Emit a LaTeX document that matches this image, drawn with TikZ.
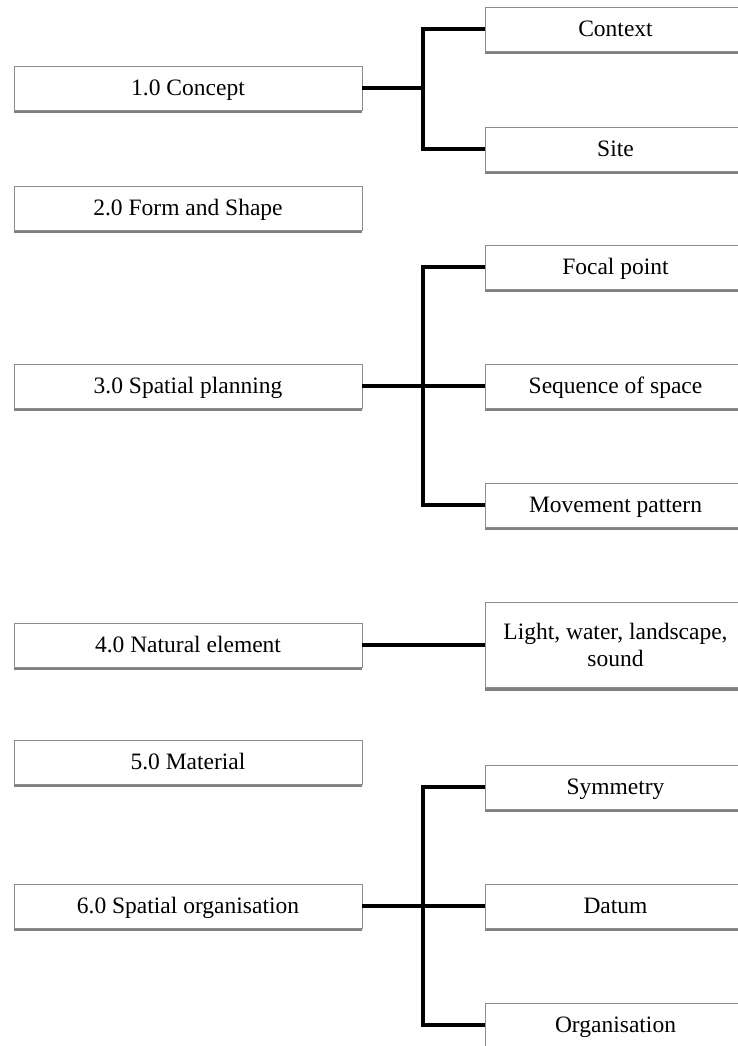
\documentclass[tikz,border=0pt]{standalone}
\usepackage{fontspec}
\setmainfont{Liberation Serif}
\usetikzlibrary{shadows}
\begin{document}
\begin{tikzpicture}[x=1pt,y=-1pt,
  box/.style={draw=black!45, line width=0.8pt, fill=white, inner sep=0pt,
    minimum height=44pt, align=center,
    font=\fontsize{23.5}{27}\selectfont, text height=17.5pt, text depth=2pt,
    drop shadow={shadow xshift=0pt, shadow yshift=-3pt, fill=black!50, opacity=1}},
  lbox/.style={box, minimum width=348pt},
  rbox/.style={box, minimum width=261pt},
  tallbox/.style={rbox, minimum height=85pt, text height={}, text depth={}},
  conn/.style={line width=3.4pt, line join=miter, line cap=butt},
  mainconn/.style={conn, line width=4pt}]
\useasboundingbox (0,0) rectangle (737,1046);
% left column
\node[lbox] (c1) at (188,88) {1.0 Concept};
\node[lbox] (c2) at (188,208) {2.0 Form and Shape};
\node[lbox] (c3) at (188,386) {3.0 Spatial planning};
\node[lbox] (c4) at (188,645) {4.0 Natural element};
\node[lbox] (c5) at (188,762) {5.0 Material};
\node[lbox] (c6) at (188,906) {6.0 Spatial organisation};
% right column
\node[rbox] (ctx) at (615.5,29) {Context};
\node[rbox] (site) at (615.5,149) {Site};
\node[rbox] (foc) at (615.5,267) {Focal point};
\node[rbox] (seq) at (615.5,386) {Sequence of space};
\node[rbox] (mov) at (615.5,505) {Movement pattern};
\node[tallbox] (lig) at (615.5,645) {Light, water, landscape,\\sound};
\node[rbox] (sym) at (615.5,787) {Symmetry};
\node[rbox] (dat) at (615.5,906) {Datum};
\node[rbox] (org) at (615.5,1025) {Organisation};
% junctions
\coordinate (j1) at (423,88);
\coordinate (j3) at (423,386);
\coordinate (j6) at (423,906);
% connectors
\draw[mainconn] (c1.east) -- (j1);
\draw[conn] (ctx.west) -| (j1) |- (site.west);
\draw[mainconn] (c3.east) -- (seq.west);
\draw[conn] (foc.west) -| (j3) |- (mov.west);
\draw[mainconn] (c4.east) -- (lig.west);
\draw[mainconn] (c6.east) -- (dat.west);
\draw[conn] (sym.west) -| (j6) |- (org.west);
\end{tikzpicture}
\end{document}
